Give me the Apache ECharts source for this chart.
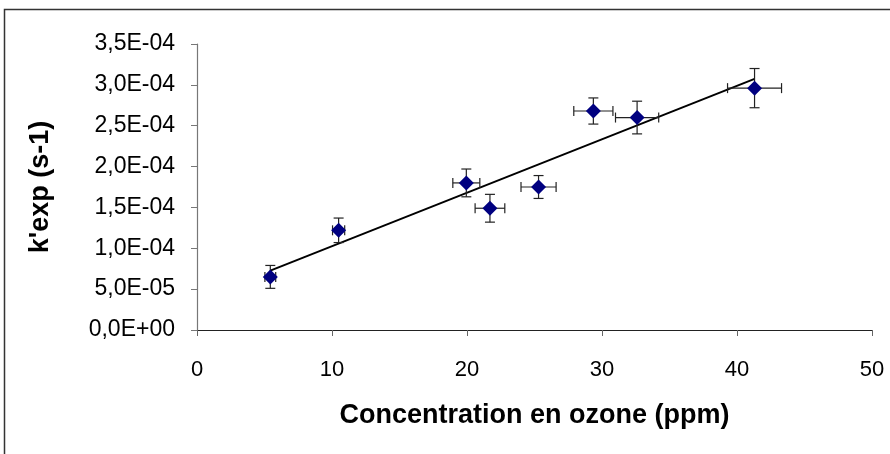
<!DOCTYPE html>
<html>
<head>
<meta charset="utf-8">
<script src="https://cdn.jsdelivr.net/npm/echarts@6/dist/echarts.min.js"></script>
<style>
  html, body { margin: 0; padding: 0; background: #fff; }
  #chart { width: 890px; height: 454px; }
</style>
</head>
<body>
<div id="chart"></div>
<script>
// ozone concentration (ppm) and measured k'exp (s-1)
var conc = [5.43, 10.49, 19.95, 21.7, 25.3, 29.36, 32.6, 41.3];
var kexp = [6.5e-5, 1.22e-4, 1.80e-4, 1.49e-4, 1.75e-4, 2.68e-4, 2.60e-4, 2.96e-4];
// error bars
var concErr = [0.4, 0.45, 1.0, 1.1, 1.3, 1.45, 1.6, 2.0];
var kErr = [1.4e-5, 1.5e-5, 1.7e-5, 1.7e-5, 1.4e-5, 1.6e-5, 2.0e-5, 2.4e-5];

var xTicks = [0, 10, 20, 30, 40, 50];
var yTicks = [0, 5e-5, 1e-4, 1.5e-4, 2e-4, 2.5e-4, 3e-4, 3.5e-4];

// linear trend (least squares)
function linFit(xs, ys){
	var n = xs.length, mx = 0, my = 0;
	for(var i=0; i<n; i++){ mx += xs[i]; my += ys[i]; }
	mx /= n; my /= n;
	var sxy = 0, sxx = 0;
	for(var i=0; i<n; i++){
		sxy += (xs[i]-mx)*(ys[i]-my);
		sxx += (xs[i]-mx)*(xs[i]-mx);
	}
	var a = sxy/sxx;
	return { a: a, b: my - a*mx };
}
var fit = linFit(conc, kexp);
var xMin = Math.min.apply(null, conc), xMax = Math.max.apply(null, conc);
var trend = [[xMin, fit.a*xMin + fit.b], [xMax, fit.a*xMax + fit.b]];

var points = [];
var errData = [];
for(var i=0; i<conc.length; i++){
	points.push([conc[i], kexp[i]]);
	errData.push([conc[i], kexp[i], concErr[i], kErr[i]]);
}

function sciLabel(v){
	if(v === 0) return '0,0E+00';
	var e = Math.floor(Math.log10(Math.abs(v)) + 1e-9);
	var m = v / Math.pow(10, e);
	var s = m.toFixed(1).replace('.', ',');
	var es = Math.abs(e) < 10 ? '0' + Math.abs(e) : '' + Math.abs(e);
	return s + 'E' + (e < 0 ? '-' : '+') + es;
}

function renderErr(params, api){
	var x = api.value(0), y = api.value(1), dx = api.value(2), dy = api.value(3);
	var l = api.coord([x - dx, y]), r = api.coord([x + dx, y]);
	var t = api.coord([x, y + dy]), b = api.coord([x, y - dy]);
	var c = 5;
	var st = { stroke: '#222', lineWidth: 1.2 };
	var lines = [
		[l[0], l[1], r[0], r[1]],
		[l[0], l[1]-c, l[0], l[1]+c],
		[r[0], r[1]-c, r[0], r[1]+c],
		[t[0], t[1], b[0], b[1]],
		[t[0]-c, t[1], t[0]+c, t[1]],
		[b[0]-c, b[1], b[0]+c, b[1]]
	];
	var children = [];
	for(var i=0; i<lines.length; i++){
		children.push({
			type: 'line',
			shape: { x1: lines[i][0], y1: lines[i][1], x2: lines[i][2], y2: lines[i][3] },
			style: st
		});
	}
	return { type: 'group', children: children };
}

var myChart = echarts.init(document.getElementById('chart'));
var option = {
	backgroundColor: '#fff',
	animation: false,
	graphic: [{
		type: 'rect',
		shape: { x: 4.5, y: 9.5, width: 900, height: 500 },
		style: { fill: 'none', stroke: '#333', lineWidth: 1.5 },
		silent: true
	}],
	grid: { left: 197, top: 44, right: 18, bottom: 124 },
	xAxis: {
		type: 'value',
		min: 0, max: 50, interval: 10,
		name: 'Concentration en ozone (ppm)',
		nameLocation: 'middle',
		nameGap: 72,
		nameTextStyle: { fontFamily: 'Liberation Sans', fontWeight: 'bold', fontSize: 27, color: '#000' },
		axisLine: { lineStyle: { color: '#222', width: 1.2 } },
		axisTick: { show: true, length: 6, lineStyle: { color: '#666' } },
		axisLabel: { margin: 29, fontFamily: 'Liberation Sans', fontSize: 22, color: '#000',
			formatter: function(v){ return xTicks.indexOf(v) >= 0 ? String(v) : ''; } },
		splitLine: { show: false }
	},
	yAxis: {
		type: 'value',
		min: 0, max: 3.5e-4, interval: 5e-5,
		name: "k'exp (s-1)",
		nameLocation: 'middle',
		nameGap: 143,
		nameTextStyle: { fontFamily: 'Liberation Sans', fontWeight: 'bold', fontSize: 27, color: '#000' },
		axisLine: { show: true, lineStyle: { color: '#777', width: 1.2 } },
		axisTick: { show: true, length: 6, lineStyle: { color: '#777' } },
		axisLabel: { margin: 22, fontFamily: 'Liberation Sans', fontSize: 23, color: '#000',
			formatter: sciLabel },
		splitLine: { show: false }
	},
	series: [
		{
			type: 'line',
			data: trend,
			symbol: 'none',
			lineStyle: { color: '#000', width: 2 },
			z: 2
		},
		{
			type: 'custom',
			renderItem: renderErr,
			data: errData,
			encode: { x: 0, y: 1 },
			z: 3
		},
		{
			type: 'scatter',
			data: points,
			symbol: 'diamond',
			symbolSize: [15, 15],
			itemStyle: { color: '#000080', opacity: 1 },
			z: 4
		}
	]
};
myChart.setOption(option);
</script>
</body>
</html>
